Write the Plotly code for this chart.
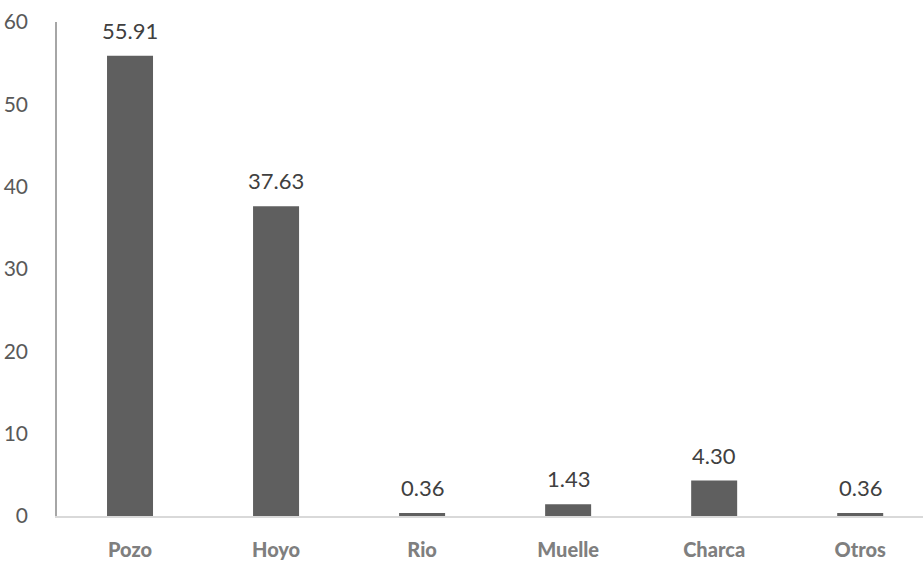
import plotly.graph_objects as go

categories = ["Pozo", "Hoyo", "Rio", "Muelle", "Charca", "Otros"]
values = [55.91, 37.63, 0.36, 1.43, 4.30, 0.36]
y_ticks = [0, 10, 20, 30, 40, 50, 60]

FONT = "Lato, Open Sans, sans-serif"

fig = go.Figure(
    go.Bar(
        x=categories,
        y=values,
        width=0.315,
        marker=dict(color="#5f5f5f", line=dict(width=0)),
        cliponaxis=False,
    )
)

# value labels above each bar
for cat, val in zip(categories, values):
    fig.add_annotation(
        x=cat,
        y=val,
        text=f"{val:.2f}",
        showarrow=False,
        xanchor="center",
        yanchor="bottom",
        yshift=10,
        font=dict(family=FONT, size=22, color="#404040"),
    )

fig.update_layout(
    width=923,
    height=561,
    margin=dict(l=57, r=0, t=22, b=43),
    paper_bgcolor="white",
    plot_bgcolor="white",
    showlegend=False,
)

fig.update_xaxes(
    range=[-0.5, 5.43],
    showline=True,
    linecolor="#d9d9d9",
    linewidth=1.5,
    showgrid=False,
    ticks="",
    ticklabelstandoff=15,
    tickfont=dict(family=FONT, size=20, color="#7f7f7f", weight=900),
)

fig.update_yaxes(
    range=[0, 60],
    tickvals=y_ticks,
    showline=True,
    linecolor="#a6a6a6",
    linewidth=1.5,
    showgrid=False,
    zeroline=False,
    ticks="",
    ticklabelstandoff=23,
    tickfont=dict(family=FONT, size=21, color="#595959"),
)

fig.write_html("out.html")
